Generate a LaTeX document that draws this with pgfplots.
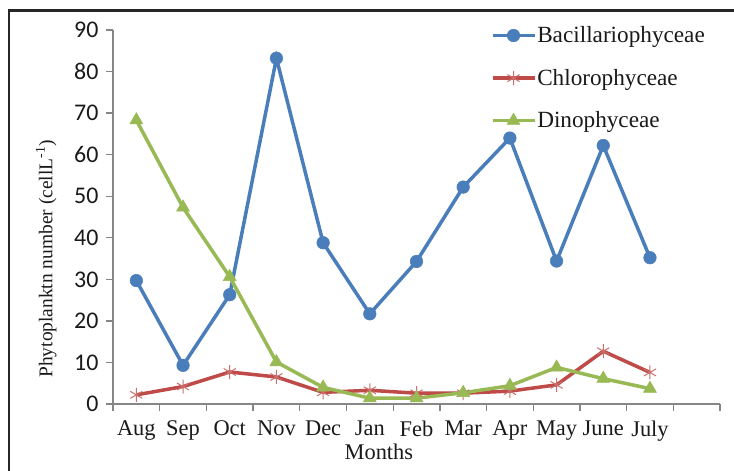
\documentclass[border=0pt]{standalone}
\usepackage{fontspec}
\setmainfont{Liberation Serif}
\newfontfamily\calibri{Carlito}
\usepackage{pgfplots}
\pgfplotsset{compat=1.18}
\definecolor{cblue}{HTML}{4A7EBB}
\definecolor{cred}{HTML}{BE4B48}
\definecolor{cgreen}{HTML}{98B954}
\definecolor{axgray}{HTML}{868686}
\definecolor{txt}{HTML}{1A1A1A}
\begin{document}
\begin{tikzpicture}
\useasboundingbox (0bp,0bp) rectangle (734bp,471bp);
\fill[white] (0bp,0bp) rectangle (734bp,471bp);
\draw[line width=2.2bp, black!85] (9bp,-10bp) -- (9bp,460.5bp) -- (745bp,460.5bp);
\begin{axis}[
  at={(113bp,67bp)}, anchor=south west,
  scale only axis, width=607bp, height=374bp,
  xmin=-0.5, xmax=12.5, ymin=0, ymax=90,
  clip=false,
  axis lines*=left,
  axis line style={draw=axgray, line width=1.3bp},
  tick style={draw=axgray, line width=1.3bp},
  tick align=outside, major tick length=7bp,
  xtick={-0.5,0.5,...,12.5},
  x tick label as interval=true,
  xticklabels={Aug,Sep,Oct,Nov,Dec,Jan,Feb,Mar,Apr,May,June,July,{}},
  ytick={0,10,...,90},
  /pgf/number format/assume math mode=true,
  yticklabel style={font=\calibri\fontsize{24}{24}\selectfont, text=txt, xshift=-4bp},
  xticklabel style={font=\fontsize{22.5}{23}\selectfont, text=txt, yshift=-6bp},
  xlabel={Months},
  xlabel style={font=\fontsize{22.5}{23}\selectfont, text=txt, at={(axis description cs:0.438,-0.128)}, anchor=center},
  ylabel={Phytoplanktn number (cellL\textsuperscript{-1})},
  ylabel style={font=\fontsize{19.5}{20}\selectfont, text=txt, at={(axis description cs:-0.110,0.388)}, anchor=center},
  legend style={at={(axis description cs:0.622,1.02)}, anchor=north west, draw=none, fill=none,
    font=\fontsize{23.3}{26}\selectfont, text=txt, row sep=21bp, inner xsep=0pt,
    nodes={inner xsep=1bp}},
  legend cell align=left,
  legend image code/.code={\draw[mark repeat=2,mark phase=2] plot coordinates {(0bp,0bp) (21bp,0bp) (42bp,0bp)};},
]
\addplot[cblue, line width=3.5bp, mark=*, mark size=6.3bp, mark options={line width=0.5bp}]
  coordinates {(0,29.7) (1,9.3) (2,26.3) (3,83.2) (4,38.8) (5,21.7) (6,34.3) (7,52.2) (8,64.0) (9,34.4) (10,62.2) (11,35.2)};
\addlegendentry{Bacillariophyceae}
\addplot[cred, line width=3.5bp, mark=asterisk, mark size=7bp, mark options={line width=1bp, draw=cred!80}]
  coordinates {(0,2.2) (1,4.2) (2,7.7) (3,6.5) (4,2.8) (5,3.3) (6,2.6) (7,2.6) (8,3.1) (9,4.6) (10,12.7) (11,7.6)};
\addlegendentry{Chlorophyceae}
\addplot[cgreen, line width=3.5bp, mark=triangle*, mark size=7.5bp, mark options={line width=0.5bp}]
  coordinates {(0,68.3) (1,47.3) (2,30.6) (3,10.1) (4,4.0) (5,1.4) (6,1.4) (7,2.7) (8,4.4) (9,8.8) (10,6.1) (11,3.7)};
\addlegendentry{Dinophyceae}
\end{axis}
\end{tikzpicture}
\end{document}
